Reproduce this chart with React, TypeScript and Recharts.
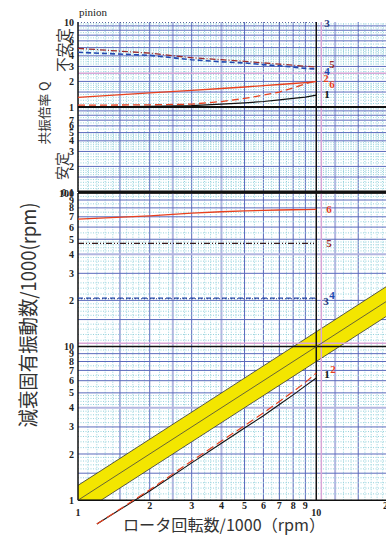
import React from "react";
import { ComposedChart, Line, Area, XAxis, YAxis, ReferenceLine, LabelList } from "recharts";

// rotor speed /1000 rpm
const rpm = [1, 2, 3, 4, 5, 6, 7, 8, 9, 10];
const rpmFlat = [1, 10];
const rpmOrder = [1.2, 2, 3, 4, 5, 6, 7, 8, 9, 10];

// resonance magnification Q (top panel)
const q1 = [1.0, 1.02, 1.04, 1.08, 1.12, 1.16, 1.21, 1.26, 1.31, 1.38];
const q2 = [1.05, 1.06, 1.08, 1.16, 1.26, 1.38, 1.5, 1.68, 1.88, 2.02];
const q3 = [10, 10];
const q4 = [4.4, 4.05, 3.6, 3.4, 3.3, 3.15, 3.05, 2.95, 2.85, 2.8];
const q5 = [4.9, 4.3, 3.8, 3.6, 3.45, 3.3, 3.2, 3.1, 3.02, 2.95];
const q6 = [1.3, 1.47, 1.57, 1.65, 1.72, 1.78, 1.84, 1.89, 1.94, 1.99];

// damped natural frequency /1000 rpm (bottom panel)
const f1 = [0.7, 1.15, 1.75, 2.35, 2.95, 3.55, 4.2, 4.85, 5.55, 6.25];
const f2 = [0.7, 1.17, 1.8, 2.43, 3.06, 3.7, 4.4, 5.1, 5.85, 6.74];
const f3 = [20.5, 20.5];
const f4 = [20.7, 20.7];
const f5 = [47, 47];
const f6 = [67.5, 71, 74, 75.5, 76.5, 77, 77.5, 77.8, 78, 78.2];

// 1x rotation band
const bandX = [1, 1.25, 20];
const bandLow = [1, 1, 16];
const bandMid = [1, 1.25, 20];
const bandHigh = [1.25, 1.56, 25];

// ticks
const xTicks = [1, 2, 3, 4, 5, 6, 7, 8, 9, 10, 20];
const qTicks = [0.1, 0.2, 0.3, 0.4, 0.5, 0.6, 0.7, 1, 2, 3, 4, 5, 6, 7, 10];
const fTicks = [1, 2, 3, 4, 5, 6, 7, 8, 9, 10, 20, 30, 40, 50, 60, 70, 80, 90, 100];

// grid lines
const xBlue = [1.5, 2, 3, 5, 6, 7, 8, 9, 15, 20];
const xLav = [2.5, 4, 12];
const xMinor = [1.1, 1.2, 1.3, 1.4, 1.6, 1.7, 1.8, 1.9, 2.2, 2.4, 2.6, 2.8, 3.2, 3.4, 3.6, 3.8, 4.2, 4.4, 4.6, 4.8, 5.5, 6.5, 7.5, 8.5, 9.5, 11, 13, 14, 16, 17, 18, 19];
const decBlue = [1.5, 2, 3, 4, 5, 6, 7, 8, 9];
const decMinor = [1.1, 1.2, 1.3, 1.4, 1.6, 1.7, 1.8, 1.9, 2.2, 2.4, 2.6, 2.8, 3.2, 3.4, 3.6, 3.8, 4.2, 4.4, 4.6, 4.8, 5.5, 6.5, 7.5, 8.5, 9.5];
const scaleBy = (vals: number[], k: number) => vals.map((v) => +(v * k).toPrecision(6));

const pts = (xs: number[], ys: number[]) => xs.map((x, i) => ({ x, y: ys[i] }));
const band = bandX.map((x, i) => ({ x, lo: bandLow[i], mid: bandMid[i], hi: bandHigh[i] }));

const BLUE = "#5a6abc";
const LAV = "#b3b6e0";
const MINOR = "#94d2dc";
const PINK = "#d9a6d6";
const RED = "#e8401e";
const DRED = "#9a2a2a";
const DBLUE = "#2148b0";
const W = 400;

const tickFont = { fontSize: 10, fontFamily: "'Liberation Serif', serif", fontWeight: 700, fill: "#222" };
const qFmt = (v: number) => (v > 0.1 && v < 1 ? String(Math.round(v * 10)) : String(v));
const fFmt = (v: number) => (v > 10 && v < 100 ? String(v / 10) : String(v));

function endLabel(text: string, dx: number, dy: number, color: string, last: number) {
  return (props: any) => {
    if (props.index !== last) return null;
    const x = props.x ?? props.viewBox?.x;
    const y = props.y ?? props.viewBox?.y;
    return (
      <text x={x + dx} y={y + dy} dominantBaseline="central" fontSize={11} fontWeight={700}
        fontFamily="'Liberation Serif', serif" fill={color}>{text}</text>
    );
  };
}

const XTick = (props: any) => {
  const { x, y, payload } = props;
  const v = payload.value;
  const low = v === 1 || v === 10;
  return (
    <text x={x} y={y - (low ? 13 : 20)} textAnchor="middle" dominantBaseline="central" {...tickFont}>{v}</text>
  );
};

function vGrid(bottom: boolean) {
  const mk = (v: number, stroke: string, w: number, dash: string | undefined, k: string) =>
    bottom ? (
      <ReferenceLine key={k + v} segment={[{ x: v, y: 1 }, { x: v, y: 100 }]} stroke={stroke} strokeWidth={w} strokeDasharray={dash} zIndex={50} />
    ) : (
      <ReferenceLine key={k + v} x={v} stroke={stroke} strokeWidth={w} strokeDasharray={dash} zIndex={50} />
    );
  return [
    ...xMinor.map((v) => mk(v, MINOR, 1, "1 1.5", "vm")),
    ...xLav.map((v) => mk(v, LAV, 2, undefined, "vl")),
    ...xBlue.map((v) => mk(v, BLUE, 1, undefined, "vb")),
  ];
}

function hGrid(minor: number[], blue: number[], lav: number[], key: string) {
  return [
    ...minor.map((v) => <ReferenceLine key={key + "m" + v} y={v} stroke={MINOR} strokeDasharray="1 1.5" zIndex={50} />),
    ...lav.map((v) => <ReferenceLine key={key + "l" + v} y={v} stroke={LAV} strokeWidth={2} zIndex={50} />),
    ...blue.map((v) => <ReferenceLine key={key + "b" + v} y={v} stroke={BLUE} zIndex={50} />),
  ];
}

export default function App() {
  const qMinor = [...scaleBy(decMinor, 0.1), ...decMinor];
  const qBlue = [...scaleBy(decBlue, 0.1), ...decBlue];
  const fMinor = [...decMinor, ...scaleBy(decMinor, 10)];
  const fBlue = [...decBlue.filter((v) => v !== 4), ...scaleBy(decBlue, 10).filter((v) => v !== 40)];

  const cjk = "'Noto Sans CJK JP', 'Noto Sans', sans-serif";

  return (
    <div style={{ position: "absolute", left: 0, top: 0, width: 386, height: 536, overflow: "hidden", background: "#fff" }}>
      {/* top panel: Q */}
      <div style={{ position: "absolute", left: 0, top: 0 }}>
        <ComposedChart width={W} height={200} margin={{ top: 22, right: 12, bottom: 8, left: 38 }}>
          <XAxis type="number" dataKey="x" scale="log" domain={[1, 20]} allowDataOverflow hide />
          <YAxis type="number" scale="log" domain={[0.1, 10]} allowDataOverflow ticks={qTicks} interval={0}
            tickFormatter={qFmt} width={40} tickLine={false} axisLine={false} tickSize={2} tickMargin={2} tick={tickFont} />
          {vGrid(false)}
          {hGrid(qMinor, qBlue, [], "q")}
          <ReferenceLine y={2.5} stroke={PINK} strokeWidth={1.5} zIndex={150} />
          <ReferenceLine x={10.5} stroke={PINK} strokeWidth={1.5} zIndex={150} />
          <ReferenceLine y={1} stroke="#111" strokeWidth={2} zIndex={150} />
          <ReferenceLine y={0.1} stroke="#111" strokeWidth={3} zIndex={150} />
          <ReferenceLine x={1} stroke="#111" strokeWidth={1.5} zIndex={150} />
          <ReferenceLine x={10} stroke="#111" strokeWidth={1.5} zIndex={150} />

          <Line data={pts(rpmFlat, q3)} dataKey="y" stroke="#2a3a80" strokeWidth={1.5} strokeDasharray="1 2" dot={false} activeDot={false} isAnimationActive={false}>
            <LabelList dataKey="y" content={endLabel("3", 8, 1, "#2a3a80", 1)} />
          </Line>
          <Line data={pts(rpm, q5)} dataKey="y" stroke={DRED} strokeWidth={1.3} strokeDasharray="6 2 1 2" dot={false} activeDot={false} isAnimationActive={false}>
            <LabelList dataKey="y" content={endLabel("5", 13, -3, DRED, 9)} />
          </Line>
          <Line data={pts(rpm, q4)} dataKey="y" stroke={DBLUE} strokeWidth={1.6} strokeDasharray="5 3" dot={false} activeDot={false} isAnimationActive={false}>
            <LabelList dataKey="y" content={endLabel("4", 8, 2, DBLUE, 9)} />
          </Line>
          <Line data={pts(rpm, q6)} dataKey="y" stroke={RED} strokeWidth={1.3} dot={false} activeDot={false} isAnimationActive={false}>
            <LabelList dataKey="y" content={endLabel("6", 13, 2, RED, 9)} />
          </Line>
          <Line data={pts(rpm, q2)} dataKey="y" stroke={RED} strokeWidth={1.3} strokeDasharray="7 4" dot={false} activeDot={false} isAnimationActive={false}>
            <LabelList dataKey="y" content={endLabel("2", 7, -3, RED, 9)} />
          </Line>
          <Line data={pts(rpm, q1)} dataKey="y" stroke="#111" strokeWidth={1.2} dot={false} activeDot={false} isAnimationActive={false}>
            <LabelList dataKey="y" content={endLabel("1", 8, -1, "#111", 9)} />
          </Line>
        </ComposedChart>
      </div>

      {/* bottom panel: frequency */}
      <div style={{ position: "absolute", left: 0, top: 180 }}>
        <ComposedChart width={W} height={356} margin={{ top: 13, right: 12, bottom: 0, left: 38 }}>
          <XAxis type="number" dataKey="x" scale="log" domain={[1, 20]} allowDataOverflow ticks={xTicks} interval={0}
            height={11} tickLine={false} axisLine={false} tickSize={0} tickMargin={0} tick={<XTick />} />
          <YAxis type="number" scale="log" domain={[0.69, 100]} allowDataOverflow ticks={fTicks} interval={0}
            tickFormatter={fFmt} width={40} tickLine={false} axisLine={false} tickSize={2} tickMargin={2} tick={tickFont} />
          {vGrid(true)}
          {hGrid(fMinor, fBlue, [4, 40], "f")}

          <Area data={band} dataKey={(d: any) => [d.lo, d.hi]} type="linear" fill="#f3e600" fillOpacity={1}
            stroke="#333" strokeWidth={0.8} dot={false} activeDot={false} isAnimationActive={false} />
          <Line data={band} dataKey="mid" type="linear" stroke="#444" strokeWidth={0.8} dot={false} activeDot={false} isAnimationActive={false} />

          <ReferenceLine y={10.5} stroke={PINK} strokeWidth={1.5} zIndex={150} />
          <ReferenceLine segment={[{ x: 10.5, y: 1 }, { x: 10.5, y: 100 }]} stroke={PINK} strokeWidth={1.5} zIndex={150} />
          <ReferenceLine y={100} stroke="#111" strokeWidth={1.5} zIndex={150} />
          <ReferenceLine y={10} stroke="#111" strokeWidth={1.5} zIndex={150} />
          <ReferenceLine y={1} stroke="#111" strokeWidth={1.5} zIndex={150} />
          <ReferenceLine segment={[{ x: 1, y: 1 }, { x: 1, y: 100 }]} stroke="#111" strokeWidth={1.5} zIndex={150} />
          <ReferenceLine segment={[{ x: 10, y: 1 }, { x: 10, y: 100 }]} stroke="#111" strokeWidth={1.5} zIndex={150} />

          <Line data={pts(rpm, f6)} dataKey="y" stroke={RED} strokeWidth={1.3} dot={false} activeDot={false} isAnimationActive={false}>
            <LabelList dataKey="y" content={endLabel("6", 10, 0, RED, 9)} />
          </Line>
          <Line data={pts(rpmFlat, f5)} dataKey="y" stroke="#3a1a1a" strokeWidth={1.2} strokeDasharray="6 2 1 2 1 2" dot={false} activeDot={false} isAnimationActive={false}>
            <LabelList dataKey="y" content={endLabel("5", 10, 0, DRED, 1)} />
          </Line>
          <Line data={pts(rpmFlat, f4)} dataKey="y" stroke={DBLUE} strokeWidth={1.4} strokeDasharray="5 3" dot={false} activeDot={false} isAnimationActive={false}>
            <LabelList dataKey="y" content={endLabel("4", 13, -3, DBLUE, 1)} />
          </Line>
          <Line data={pts(rpmFlat, f3)} dataKey="y" stroke="#2a3a80" strokeWidth={1.2} strokeDasharray="1 2" dot={false} activeDot={false} isAnimationActive={false}>
            <LabelList dataKey="y" content={endLabel("3", 7, 2, "#2a3a80", 1)} />
          </Line>
          <Line data={pts(rpmOrder, f1)} dataKey="y" stroke="#111" strokeWidth={1.1} dot={false} activeDot={false} isAnimationActive={false}>
            <LabelList dataKey="y" content={endLabel("1", 8, -4, "#111", 9)} />
          </Line>
          <Line data={pts(rpmOrder, f2)} dataKey="y" stroke={RED} strokeWidth={1.2} strokeDasharray="8 4" dot={false} activeDot={false} isAnimationActive={false}>
            <LabelList dataKey="y" content={endLabel("2", 14, -4, RED, 9)} />
          </Line>
        </ComposedChart>
      </div>

      {/* titles */}
      <svg width={386} height={536} style={{ position: "absolute", left: 0, top: 0, pointerEvents: "none" }}>
        <text x={79} y={16} fontSize={11} fontFamily="'Liberation Serif', serif" fill="#222">pinion</text>
        <text transform="translate(62,50) rotate(-90)" textAnchor="middle" dominantBaseline="central"
          fontSize={14} fontFamily={cjk} fill="#333" textLength={44} lengthAdjust="spacingAndGlyphs">不安定</text>
        <text transform="translate(43,113) rotate(-90)" textAnchor="middle" dominantBaseline="central"
          fontSize={13} fontFamily={cjk} fill="#333" textLength={63} lengthAdjust="spacingAndGlyphs">共振倍率 Q</text>
        <text transform="translate(61,166) rotate(-90)" textAnchor="middle" dominantBaseline="central"
          fontSize={14} fontFamily={cjk} fill="#333" textLength={28} lengthAdjust="spacingAndGlyphs">安定</text>
        <text transform="translate(27,315) rotate(-90)" textAnchor="middle" dominantBaseline="central"
          fontSize={20} fontFamily={cjk} fill="#333" textLength={225} lengthAdjust="spacingAndGlyphs">減衰固有振動数/1000(rpm)</text>
        <text x={224} y={524} textAnchor="middle" dominantBaseline="central"
          fontSize={16} fontFamily={cjk} fill="#333" textLength={202} lengthAdjust="spacingAndGlyphs">ロータ回転数/1000（rpm）</text>
      </svg>
    </div>
  );
}
